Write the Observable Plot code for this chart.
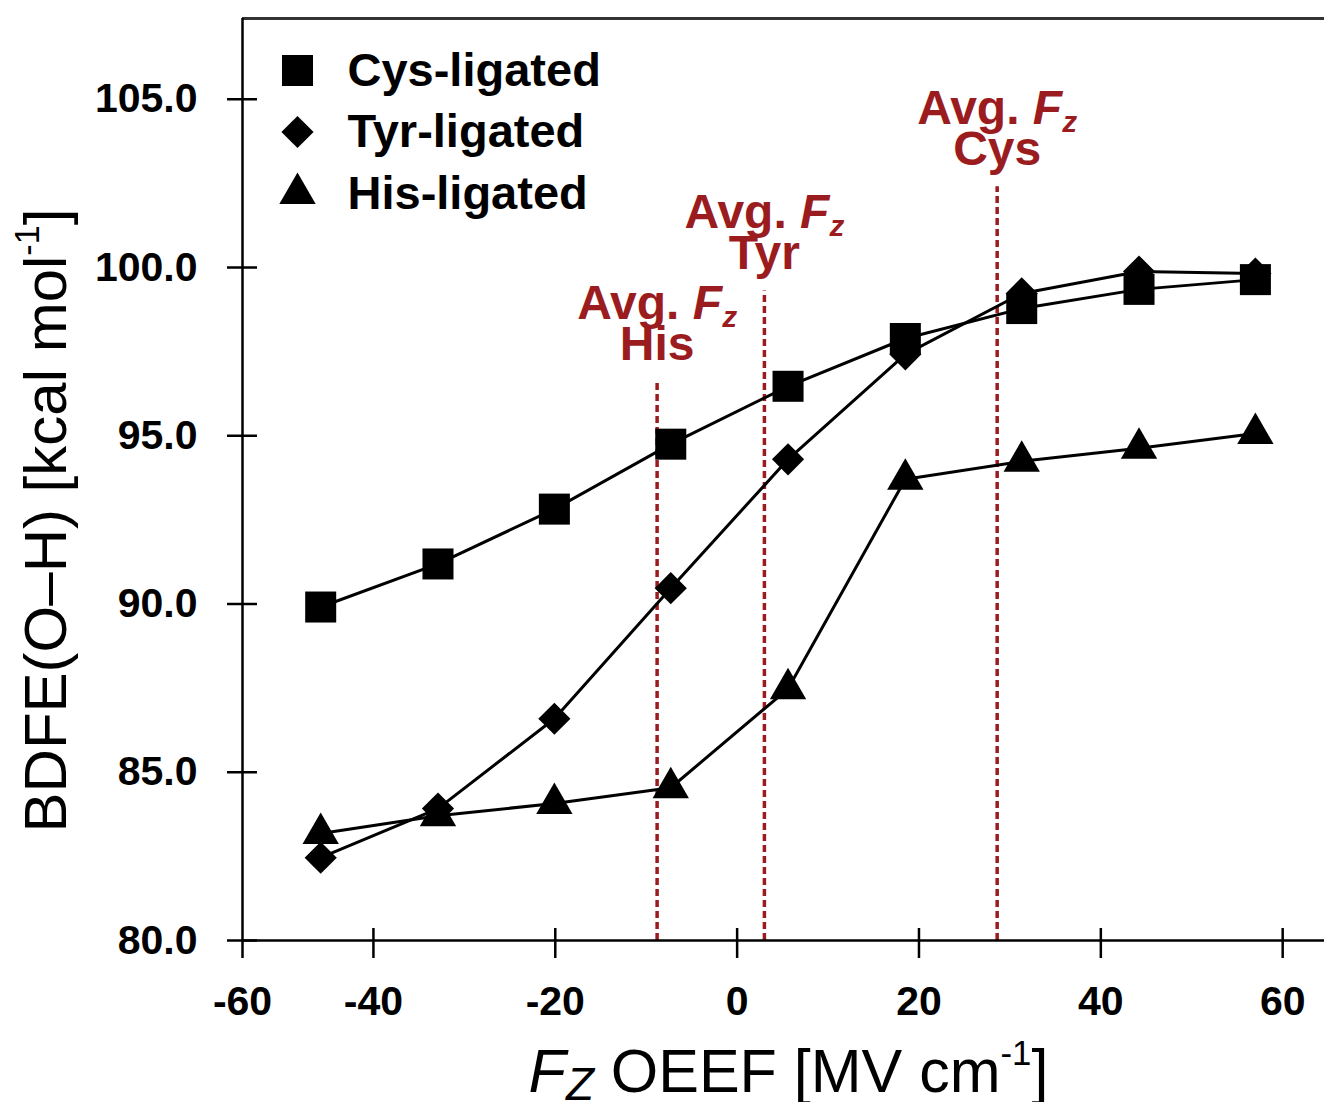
<!DOCTYPE html>
<html>
<head>
<meta charset="utf-8">
<script src="https://cdn.jsdelivr.net/npm/d3@7"></script>
<script src="https://cdn.jsdelivr.net/npm/@observablehq/plot@0.6"></script>
<style>
  body { margin: 0; background: #fff; }
  svg { display: block; }
</style>
</head>
<body>
<div id="chart"></div>
<script>
// ---- data ----
const fieldZ  = [-45.8, -32.9, -20.1, -7.3, 5.6, 18.5, 31.3, 44.2, 57.0];
const cysBDFE = [89.91, 91.19, 92.82, 94.75, 96.47, 97.89, 98.78, 99.35, 99.64];
const tyrBDFE = [82.46, 83.92, 86.59, 90.47, 94.30, 97.42, 99.23, 99.88, 99.82];
const hisBDFE = [83.18, 83.71, 84.07, 84.54, 87.48, 93.71, 94.24, 94.63, 95.07];

const seriesNames   = ["Cys-ligated", "Tyr-ligated", "His-ligated"];
const seriesSymbols = ["square", "diamond2", "triangle"];

const avgFzValues  = [-8.8, 3.0, 28.6];
const avgFzNames   = ["His", "Tyr", "Cys"];
const avgFzLineTop = [96.6, 99.3, 102.4];

const xTickValues   = [-40, -20, 0, 20, 40, 60];
const xTickLowLabel = "-60";
const yTickValues   = [80, 85, 90, 95, 100, 105];
const xDomain = [-54.4, 64.6];
const yDomain = [80, 107.4];

const xTitle = "FZ OEEF [MV cm-1]";
const yTitle = "BDFE(O–H) [kcal mol-1]";

// ---- build ----
const W = 1324, H = 1102;
const mL = 242, mR = 0, mT = 18, mB = 162;
const frameW = W - mL - mR, frameH = H - mT - mB;
const DARKRED = "#9b1c1f";
const seriesValues = [cysBDFE, tyrBDFE, hisBDFE];
const symbolR = {square: 17.5, diamond2: 14.5, triangle: 13.5};

const avg = avgFzValues.map((x, i) => ({x, name: avgFzNames[i], top: avgFzLineTop[i]}));

const marks = [];
// frame top border
marks.push(Plot.ruleY([yDomain[1]], {stroke: "#333", strokeWidth: 3}));
// average field dashed lines + labels
marks.push(Plot.ruleX(avg, {x: "x", y1: yDomain[0], y2: "top", stroke: DARKRED, strokeWidth: 3.5, strokeDasharray: "7,4"}));
marks.push(Plot.text(avg, {
  x: "x", y: "top", text: d => "Avg. Fz\n" + d.name,
  lineAnchor: "bottom", dy: -22, lineHeight: 0.85,
  fill: DARKRED, fontSize: 48, fontWeight: "bold"
}));
// series
seriesNames.forEach((name, s) => {
  const data = fieldZ.map((x, i) => ({x, y: seriesValues[s][i]}));
  marks.push(Plot.line(data, {x: "x", y: "y", stroke: "black", strokeWidth: 3}));
  marks.push(Plot.dot(data, {x: "x", y: "y", symbol: seriesSymbols[s], r: symbolR[seriesSymbols[s]], fill: "black", stroke: "none"}));
});
// axes
marks.push(Plot.axisX({
  ticks: [xDomain[0], ...xTickValues],
  tickFormat: d => d === xDomain[0] ? xTickLowLabel : String(d),
  tickSize: 18, tickPadding: 27, label: null, strokeWidth: 2.5
}));
marks.push(Plot.ruleX(xTickValues, {x: d => d, insetTop: frameH - 12, stroke: "black", strokeWidth: 2.5}));
marks.push(Plot.axisY({
  ticks: yTickValues, tickFormat: d => d.toFixed(1),
  tickSize: 15, tickPadding: 30, label: null, strokeWidth: 2.5
}));
marks.push(Plot.ruleY(yTickValues, {y: d => d, insetRight: frameW - 15, stroke: "black", strokeWidth: 2.5}));
marks.push(Plot.ruleX([xDomain[0]], {stroke: "black", strokeWidth: 2.5}));
marks.push(Plot.ruleY([yDomain[0]], {stroke: "black", strokeWidth: 2.5}));
// axis titles
marks.push(Plot.text([xTitle], {text: d => d, frameAnchor: "bottom", dy: 132, dx: 5,
  textAnchor: "middle", lineAnchor: "middle", fontSize: 61, fontWeight: "normal"}));
marks.push(Plot.text([yTitle], {text: d => d, frameAnchor: "left", rotate: -90, dx: -196, dy: 41,
  textAnchor: "middle", lineAnchor: "middle", fontSize: 60, fontWeight: "normal"}));
// legend (inside plot, top-left)
seriesNames.forEach((name, i) => {
  marks.push(Plot.dot([name], {frameAnchor: "top-left", dx: 55, dy: 52 + 61.5 * i,
    symbol: seriesSymbols[i], r: symbolR[seriesSymbols[i]], fill: "black", stroke: "none"}));
  marks.push(Plot.text([name], {text: d => d, frameAnchor: "top-left", dx: 105, dy: 52 + 61.5 * i,
    textAnchor: "start", lineAnchor: "middle", fontSize: 47, fontWeight: "bold"}));
});

const chart = Plot.plot({
  width: W, height: H,
  marginLeft: mL, marginRight: mR, marginTop: mT, marginBottom: mB,
  x: {domain: xDomain},
  y: {domain: yDomain},
  style: {fontFamily: "'Liberation Sans', Arial, sans-serif", fontSize: "41px", fontWeight: "bold", background: "#fff", color: "black"},
  marks
});
document.getElementById("chart").appendChild(chart);

// ---- rich text (italic F, subscripts, superscripts) ----
function rich(el, parts) {
  while (el.firstChild) el.removeChild(el.firstChild);
  const t = d3.select(el);
  for (const p of parts) {
    const ts = t.append("tspan").text(p.text);
    if (p.italic) ts.attr("font-style", "italic");
    if (p.size) ts.attr("font-size", p.size);
    if (p.shift) ts.attr("baseline-shift", p.shift);
  }
}
chart.querySelectorAll("text").forEach(el => {
  const spans = el.querySelectorAll("tspan");
  if (spans.length >= 2 && spans[0].textContent === "Avg. Fz") {
    rich(spans[0], [{text: "Avg. "}, {text: "F", italic: true}, {text: "z", italic: true, size: "0.62em", shift: "-8"}]);
  } else if (el.textContent === xTitle) {
    rich(el, [{text: "F", italic: true}, {text: "Z", italic: true, size: "0.75em", shift: "-8"},
              {text: " OEEF [MV cm"}, {text: "-1", size: "0.57em", shift: "27"}, {text: "]"}]);
  } else if (el.textContent === yTitle) {
    rich(el, [{text: "BDFE(O–H) [kcal mol"}, {text: "-1", size: "0.57em", shift: "27"}, {text: "]"}]);
  }
});
</script>
</body>
</html>
